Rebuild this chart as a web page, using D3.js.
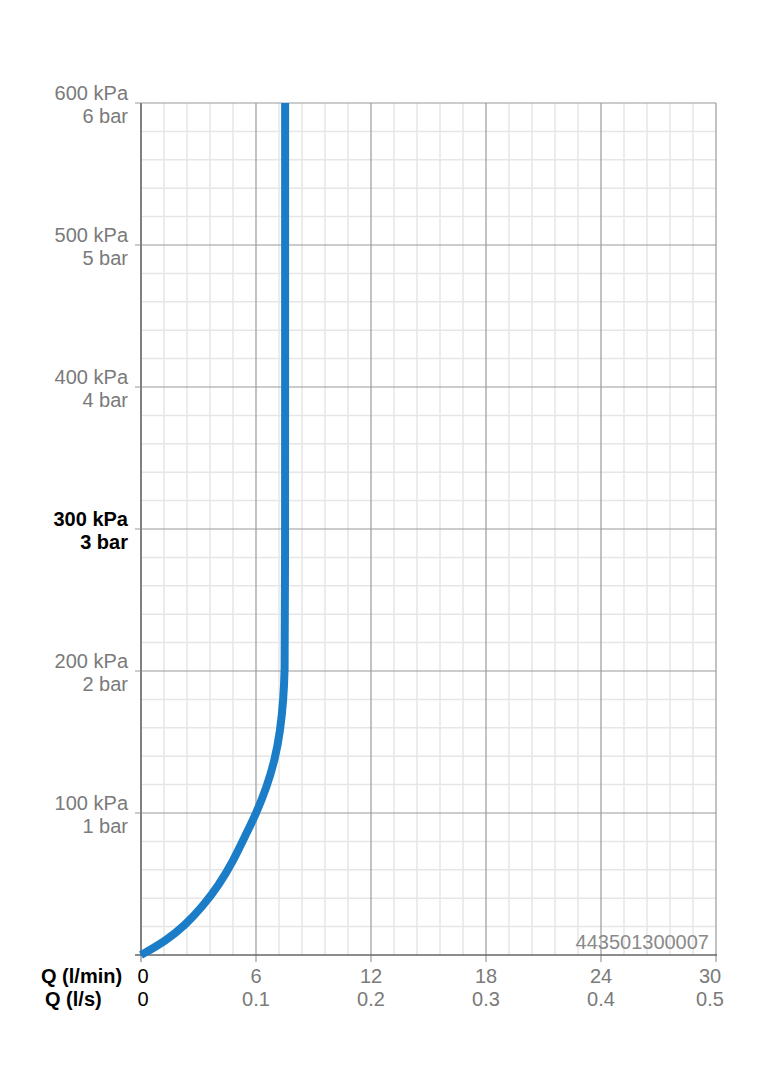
<!DOCTYPE html>
<html><head><meta charset="utf-8">
<script src="https://cdn.jsdelivr.net/npm/d3@7"></script>
<style>body{margin:0;background:#fff}svg{display:block}text{font-family:"Liberation Sans",Arial,sans-serif}</style>
</head><body>
<svg id="c" width="764" height="1080"></svg>
<script>
const flowLpm = [0, 1.3, 2.3, 3.2, 4.05, 4.8, 5.44, 6.02, 6.55, 6.98, 7.27, 7.43, 7.5, 7.52, 7.52];
const pressureKpa = [0, 10, 21, 34, 49, 66, 84, 100, 118, 137, 158, 180, 200, 230, 600];
const xTicksLpm = [0, 6, 12, 18, 24, 30];
const xTicksLps = ["0", "0.1", "0.2", "0.3", "0.4", "0.5"];
const yTicksKpa = [100, 200, 300, 400, 500, 600];
const yTicksBar = ["1 bar", "2 bar", "3 bar", "4 bar", "5 bar", "6 bar"];
const highlightKpa = 300;
const codeLabel = "443501300007";

const svg = d3.select("#c");
const L = 141, R = 716, T = 103, B = 955;
const x = d3.scaleLinear().domain([0, 30]).range([L, R]);
const y = d3.scaleLinear().domain([0, 600]).range([B, T]);
const fs = "20px";

// minor grid
const minorX = d3.range(0, 30.001, 1.2).filter(v => Math.abs(v / 6 - Math.round(v / 6)) > 1e-6);
const minorY = d3.range(0, 600.001, 20).filter(v => v % 100 !== 0);
const g = svg.append("g");
g.selectAll(".mx").data(minorX).join("line")
  .attr("x1", d => x(d)).attr("x2", d => x(d)).attr("y1", T).attr("y2", B)
  .attr("stroke", "#e6e6e6").attr("stroke-width", 1.5);
g.selectAll(".my").data(minorY).join("line")
  .attr("x1", L).attr("x2", R).attr("y1", d => y(d)).attr("y2", d => y(d))
  .attr("stroke", "#e6e6e6").attr("stroke-width", 1.5);
// major grid
g.selectAll(".Mx").data(xTicksLpm.slice(1)).join("line")
  .attr("x1", d => x(d)).attr("x2", d => x(d)).attr("y1", T).attr("y2", B + 7)
  .attr("stroke", "#9a9a9a").attr("stroke-width", 1.2);
g.selectAll(".My").data(yTicksKpa).join("line")
  .attr("x1", L - 6).attr("x2", R).attr("y1", d => y(d)).attr("y2", d => y(d))
  .attr("stroke", "#9a9a9a").attr("stroke-width", 1.2);
// axes
g.append("line").attr("x1", L).attr("x2", L).attr("y1", T).attr("y2", B + 1)
  .attr("stroke", "#808080").attr("stroke-width", 2);
g.append("line").attr("x1", L - 6).attr("x2", R + 1).attr("y1", B).attr("y2", B)
  .attr("stroke", "#666").attr("stroke-width", 1.6);
g.append("line").attr("x1", L).attr("x2", L).attr("y1", B).attr("y2", B + 7)
  .attr("stroke", "#808080").attr("stroke-width", 1.2);

// curve
const pts = flowLpm.map((q, i) => [q, pressureKpa[i]]);
svg.append("path").datum(pts)
  .attr("d", d3.line().x(d => x(d[0])).y(d => y(d[1])).curve(d3.curveBasis))
  .attr("fill", "none").attr("stroke", "#1b7dc7").attr("stroke-width", 8)
  .attr("stroke-linecap", "butt");

// y labels
const yl = svg.append("g");
yTicksKpa.forEach((v, i) => {
  const hl = v === highlightKpa;
  const t = yl.append("text").attr("text-anchor", "end").attr("x", 128)
    .attr("font-size", fs).attr("fill", hl ? "#000" : "#7a7a7a")
    .attr("font-weight", hl ? "bold" : "normal");
  t.append("tspan").attr("x", 128).attr("y", y(v) - 3).text(v + " kPa");
  t.append("tspan").attr("x", 128).attr("y", y(v) + 20).text(yTicksBar[i]);
});

// x labels
const xl = svg.append("g");
xTicksLpm.forEach((v, i) => {
  const dx = i === 0 ? 2 : (i === xTicksLpm.length - 1 ? -6 : 0);
  const col = i === 0 ? "#000" : "#7a7a7a";
  xl.append("text").attr("x", x(v) + dx).attr("y", 983).attr("text-anchor", "middle")
    .attr("font-size", fs).attr("fill", col).text(v);
  xl.append("text").attr("x", x(v) + dx).attr("y", 1006).attr("text-anchor", "middle")
    .attr("font-size", fs).attr("fill", col).text(xTicksLps[i]);
});
xl.append("text").attr("x", 41).attr("y", 983).attr("font-size", fs).attr("font-weight", "bold").text("Q (l/min)");
xl.append("text").attr("x", 45).attr("y", 1006).attr("font-size", fs).attr("font-weight", "bold").text("Q (l/s)");

svg.append("text").attr("x", 709).attr("y", 949).attr("text-anchor", "end")
  .attr("font-size", fs).attr("fill", "#8a8a8a").text(codeLabel);
</script>
</body></html>
